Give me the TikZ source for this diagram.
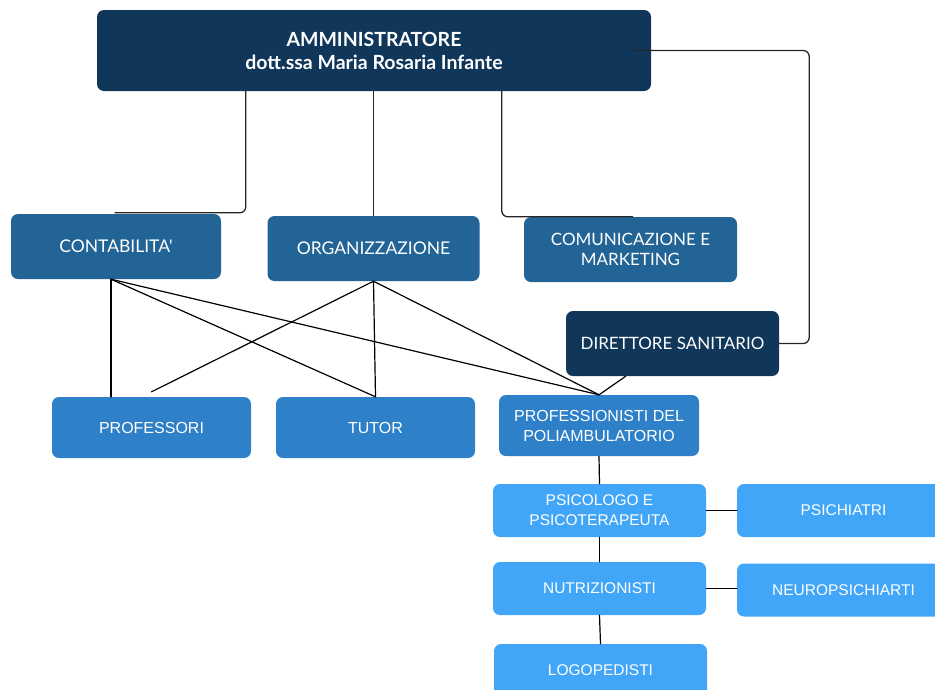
\documentclass[tikz,border=0pt]{standalone}
\usepackage{fontspec}
\setmainfont{Liberation Sans}
\newfontfamily\lato{Lato}
\usetikzlibrary{calc}
\definecolor{navy}{HTML}{10365A}
\definecolor{steel}{HTML}{236496}
\definecolor{midblue}{HTML}{2E80C8}
\definecolor{skyblue}{HTML}{42A6F8}
\begin{document}
\begin{tikzpicture}[x=1pt,y=-1pt,line join=round,line cap=round,
	box/.style={rounded corners=7pt,inner sep=0pt,align=center,text=white},
	topbox/.style={box,fill=navy,font=\lato\bfseries\fontsize{19.5}{23}\selectfont},
	headbox/.style={box,fill=steel,minimum width=212pt,minimum height=65pt,font=\lato\fontsize{17.5}{20}\selectfont},
	dirbox/.style={headbox,fill=navy,font=\lato\fontsize{17}{20}\selectfont},
	staffbox/.style={box,fill=midblue,minimum width=200pt,minimum height=61pt,font=\fontsize{16}{20}\selectfont},
	subbox/.style={box,fill=skyblue,minimum width=213pt,minimum height=53pt,font=\fontsize{15.5}{20}\selectfont},
	wire/.style={black,line width=1.2pt},
	elbow/.style={black!85,line width=1.3pt,rounded corners=6pt}]
	\useasboundingbox (0,0) rectangle (935,689);
	\clip (0,0) rectangle (935,689);
	\node[topbox,minimum width=554pt,minimum height=81pt] (admin) at (374,50.5) {AMMINISTRATORE\\dott.ssa Maria Rosaria Infante};
	\node[headbox,minimum width=210pt] (cont) at (116,246.5) {CONTABILITA'};
	\node[headbox] (org) at (373.5,248.5) {ORGANIZZAZIONE};
	\node[headbox,minimum width=213pt,font=\lato\fontsize{17}{20}\selectfont] (com) at (630.5,249.5) {COMUNICAZIONE E\\MARKETING};
	\node[dirbox,minimum width=213pt] (dir) at (672.5,343.5) {DIRETTORE SANITARIO};
	\node[staffbox,minimum width=199pt] (prof) at (151.5,427.5) {PROFESSORI};
	\node[staffbox,minimum width=199pt] (tutor) at (375.5,427.5) {TUTOR};
	\node[staffbox] (poli) at (599,425.5) {PROFESSIONISTI DEL\\POLIAMBULATORIO};
	\node[subbox] (psico) at (599.5,510.5) {PSICOLOGO E\\PSICOTERAPEUTA};
	\node[subbox] (psich) at (843.5,510.5) {PSICHIATRI};
	\node[subbox] (nutri) at (599.5,588.5) {NUTRIZIONISTI};
	\node[subbox] (neuro) at (843.5,590) {NEUROPSICHIARTI};
	\node[subbox] (logo) at (600.5,670.5) {LOGOPEDISTI};
	\draw[elbow] ($(admin.south west)+(149,0)$) |- ($(cont.north)+(-1,-1)$);
	\draw[elbow] (admin.south -| org.north) -- (org.north);
	\draw[elbow] ($(admin.south west)+(405,0)$) |- ($(com.north west)+(109,0)$);
	\draw[elbow] ($(admin.east)+(-18,0)$) -- ++(176,0) |- (dir.east);
	\coordinate (ca) at ($(cont.south)+(-5,0)$);
	\draw[wire] (ca) -- (ca |- prof.north);
	\draw[wire] (ca) -- (tutor.north);
	\draw[wire] (ca) -- (poli.north);
	\draw[wire] (org.south) -- ($(prof.north)+(0,-5)$);
	\draw[wire] (org.south) -- (tutor.north);
	\draw[wire] (org.south) -- (poli.north);
	\draw[wire] ($(dir.south west)+(60,0)$) -- (poli.north);
	\draw[wire] (poli.south) -- (psico.north);
	\draw[wire] (psico.south) -- (nutri.north);
	\draw[wire] (nutri.south) -- (logo.north);
	\draw[wire] (psico.east) -- (psich.west);
	\draw[wire] (nutri.east) -- (nutri.east -| neuro.west);
\end{tikzpicture}
\end{document}
